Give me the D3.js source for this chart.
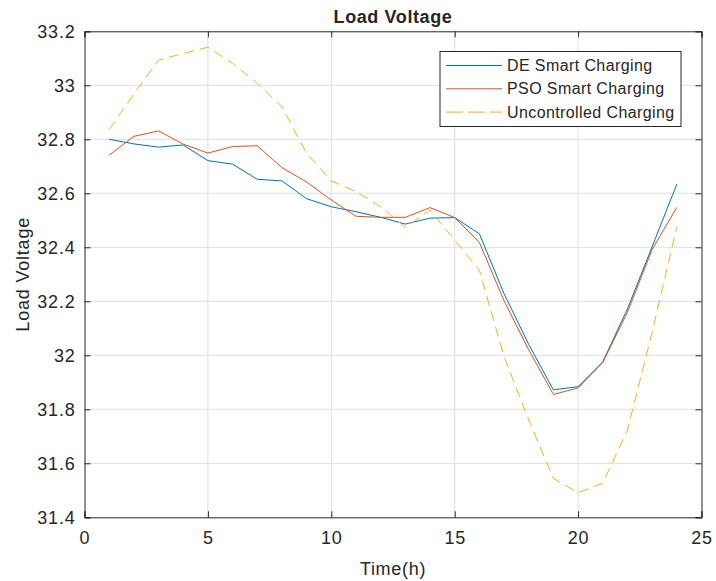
<!DOCTYPE html>
<html>
<head>
<meta charset="utf-8">
<script src="https://cdn.jsdelivr.net/npm/d3@7"></script>
<style>
  body { margin: 0; background: #fff; }
  text { font-family: "Liberation Sans", Arial, sans-serif; fill: #262626; }
</style>
</head>
<body>
<div id="chart"></div>
<script>
// heures 1..24
const hours = d3.range(1, 25);

const deSmart = [32.800, 32.783, 32.771, 32.779, 32.721, 32.708, 32.652, 32.646,
  32.580, 32.550, 32.532, 32.511, 32.486, 32.508, 32.510, 32.450,
  32.228, 32.040, 31.872, 31.884, 31.976, 32.172, 32.402, 32.634];

const psoSmart = [32.741, 32.811, 32.831, 32.782, 32.749, 32.773, 32.776, 32.695,
  32.642, 32.575, 32.515, 32.511, 32.511, 32.547, 32.510, 32.418,
  32.202, 32.020, 31.855, 31.879, 31.973, 32.160, 32.392, 32.548];

const uncontrolled = [32.836, 32.968, 33.093, 33.118, 33.141, 33.081, 33.007, 32.921,
  32.748, 32.646, 32.606, 32.550, 32.474, 32.538, 32.427, 32.315,
  31.995, 31.760, 31.544, 31.491, 31.526, 31.723, 32.085, 32.476];

const seriesNames = ['DE Smart Charging', 'PSO Smart Charging', 'Uncontrolled Charging'];
const xTicks = [0, 5, 10, 15, 20, 25];
const yTicks = [31.4, 31.6, 31.8, 32, 32.2, 32.4, 32.6, 32.8, 33, 33.2];

const width = 716, height = 581;
const margin = { top: 31.3, right: 14.5, bottom: 63.7, left: 84.5 };
const innerW = width - margin.left - margin.right;
const innerH = height - margin.top - margin.bottom;

const svg = d3.select('#chart').append('svg')
  .attr('width', width)
  .attr('height', height);

const g = svg.append('g').attr('transform', `translate(${margin.left},${margin.top})`);

const x = d3.scaleLinear().domain([0, 25]).range([0, innerW]);
const y = d3.scaleLinear().domain([31.4, 33.2]).range([innerH, 0]);

// grille
g.append('g').selectAll('line')
  .data(xTicks.slice(1, -1))
  .enter().append('line')
  .attr('x1', d => x(d)).attr('x2', d => x(d))
  .attr('y1', 0).attr('y2', innerH)
  .attr('stroke', '#dfdfdf').attr('stroke-width', 1);

g.append('g').selectAll('line')
  .data(yTicks.slice(1, -1))
  .enter().append('line')
  .attr('y1', d => y(d)).attr('y2', d => y(d))
  .attr('x1', 0).attr('x2', innerW)
  .attr('stroke', '#dfdfdf').attr('stroke-width', 1);

// courbes
const line = d3.line().x((d, i) => x(hours[i])).y(d => y(d));

const styles = [
  { data: deSmart, color: '#0072BD', dash: null },
  { data: psoSmart, color: '#D95319', dash: null },
  { data: uncontrolled, color: '#EDB120', dash: '10,6' }
];

styles.forEach(s => {
  g.append('path')
    .datum(s.data)
    .attr('d', line)
    .attr('fill', 'none')
    .attr('stroke', s.color)
    .attr('stroke-width', 1)
    .attr('stroke-dasharray', s.dash);
});

// axes
const tickLen = 6;
const fmt = d => d3.format('~g')(d);

const xAxis = g.append('g')
  .attr('transform', `translate(0,${innerH})`)
  .call(d3.axisBottom(x).tickValues(xTicks).tickSize(-tickLen).tickPadding(12).tickFormat(fmt));
const xTop = g.append('g')
  .call(d3.axisTop(x).tickValues(xTicks).tickSize(-tickLen).tickFormat(''));
const yAxis = g.append('g')
  .call(d3.axisLeft(y).tickValues(yTicks).tickSize(-tickLen).tickPadding(9).tickFormat(fmt));
const yRight = g.append('g')
  .attr('transform', `translate(${innerW},0)`)
  .call(d3.axisRight(y).tickValues(yTicks).tickSize(-tickLen).tickFormat(''));

[xAxis, xTop, yAxis, yRight].forEach(a => {
  a.select('.domain').attr('stroke', '#262626');
  a.selectAll('.tick line').attr('stroke', '#262626');
  a.selectAll('.tick text')
    .attr('fill', '#262626')
    .style('font-size', '18px')
    .style('letter-spacing', '0.8px')
    .style('font-family', '"Liberation Sans", Arial, sans-serif');
});
xAxis.selectAll('.tick text').attr('dy', '0.82em');

// titres
svg.append('text')
  .attr('x', margin.left + innerW / 2)
  .attr('y', 23)
  .attr('text-anchor', 'middle')
  .style('font-size', '18px')
  .style('font-weight', 'bold')
  .style('letter-spacing', '0.6px')
  .text('Load Voltage');

svg.append('text')
  .attr('x', margin.left + innerW / 2)
  .attr('y', 575)
  .attr('text-anchor', 'middle')
  .style('font-size', '18px')
  .style('letter-spacing', '0.7px')
  .text('Time(h)');

svg.append('text')
  .attr('transform', `translate(29,${margin.top + innerH / 2}) rotate(-90)`)
  .attr('text-anchor', 'middle')
  .style('font-size', '18px')
  .style('letter-spacing', '0.8px')
  .text('Load Voltage');

// légende
const legend = svg.append('g').attr('transform', 'translate(440,51.5)');
legend.append('rect')
  .attr('width', 241).attr('height', 75)
  .attr('fill', '#fff')
  .attr('stroke', '#262626').attr('stroke-width', 1);

seriesNames.forEach((name, i) => {
  const row = legend.append('g').attr('transform', `translate(0,${14 + i * 23.3})`);
  row.append('line')
    .attr('x1', 6).attr('x2', 62)
    .attr('stroke', styles[i].color)
    .attr('stroke-width', 1)
    .attr('stroke-dasharray', i === 2 ? '17,5' : null);
  row.append('text')
    .attr('x', 67).attr('y', 0)
    .attr('dy', '0.35em')
    .style('font-size', '16px')
    .style('letter-spacing', '0.4px')
    .text(name);
});
</script>
</body>
</html>
